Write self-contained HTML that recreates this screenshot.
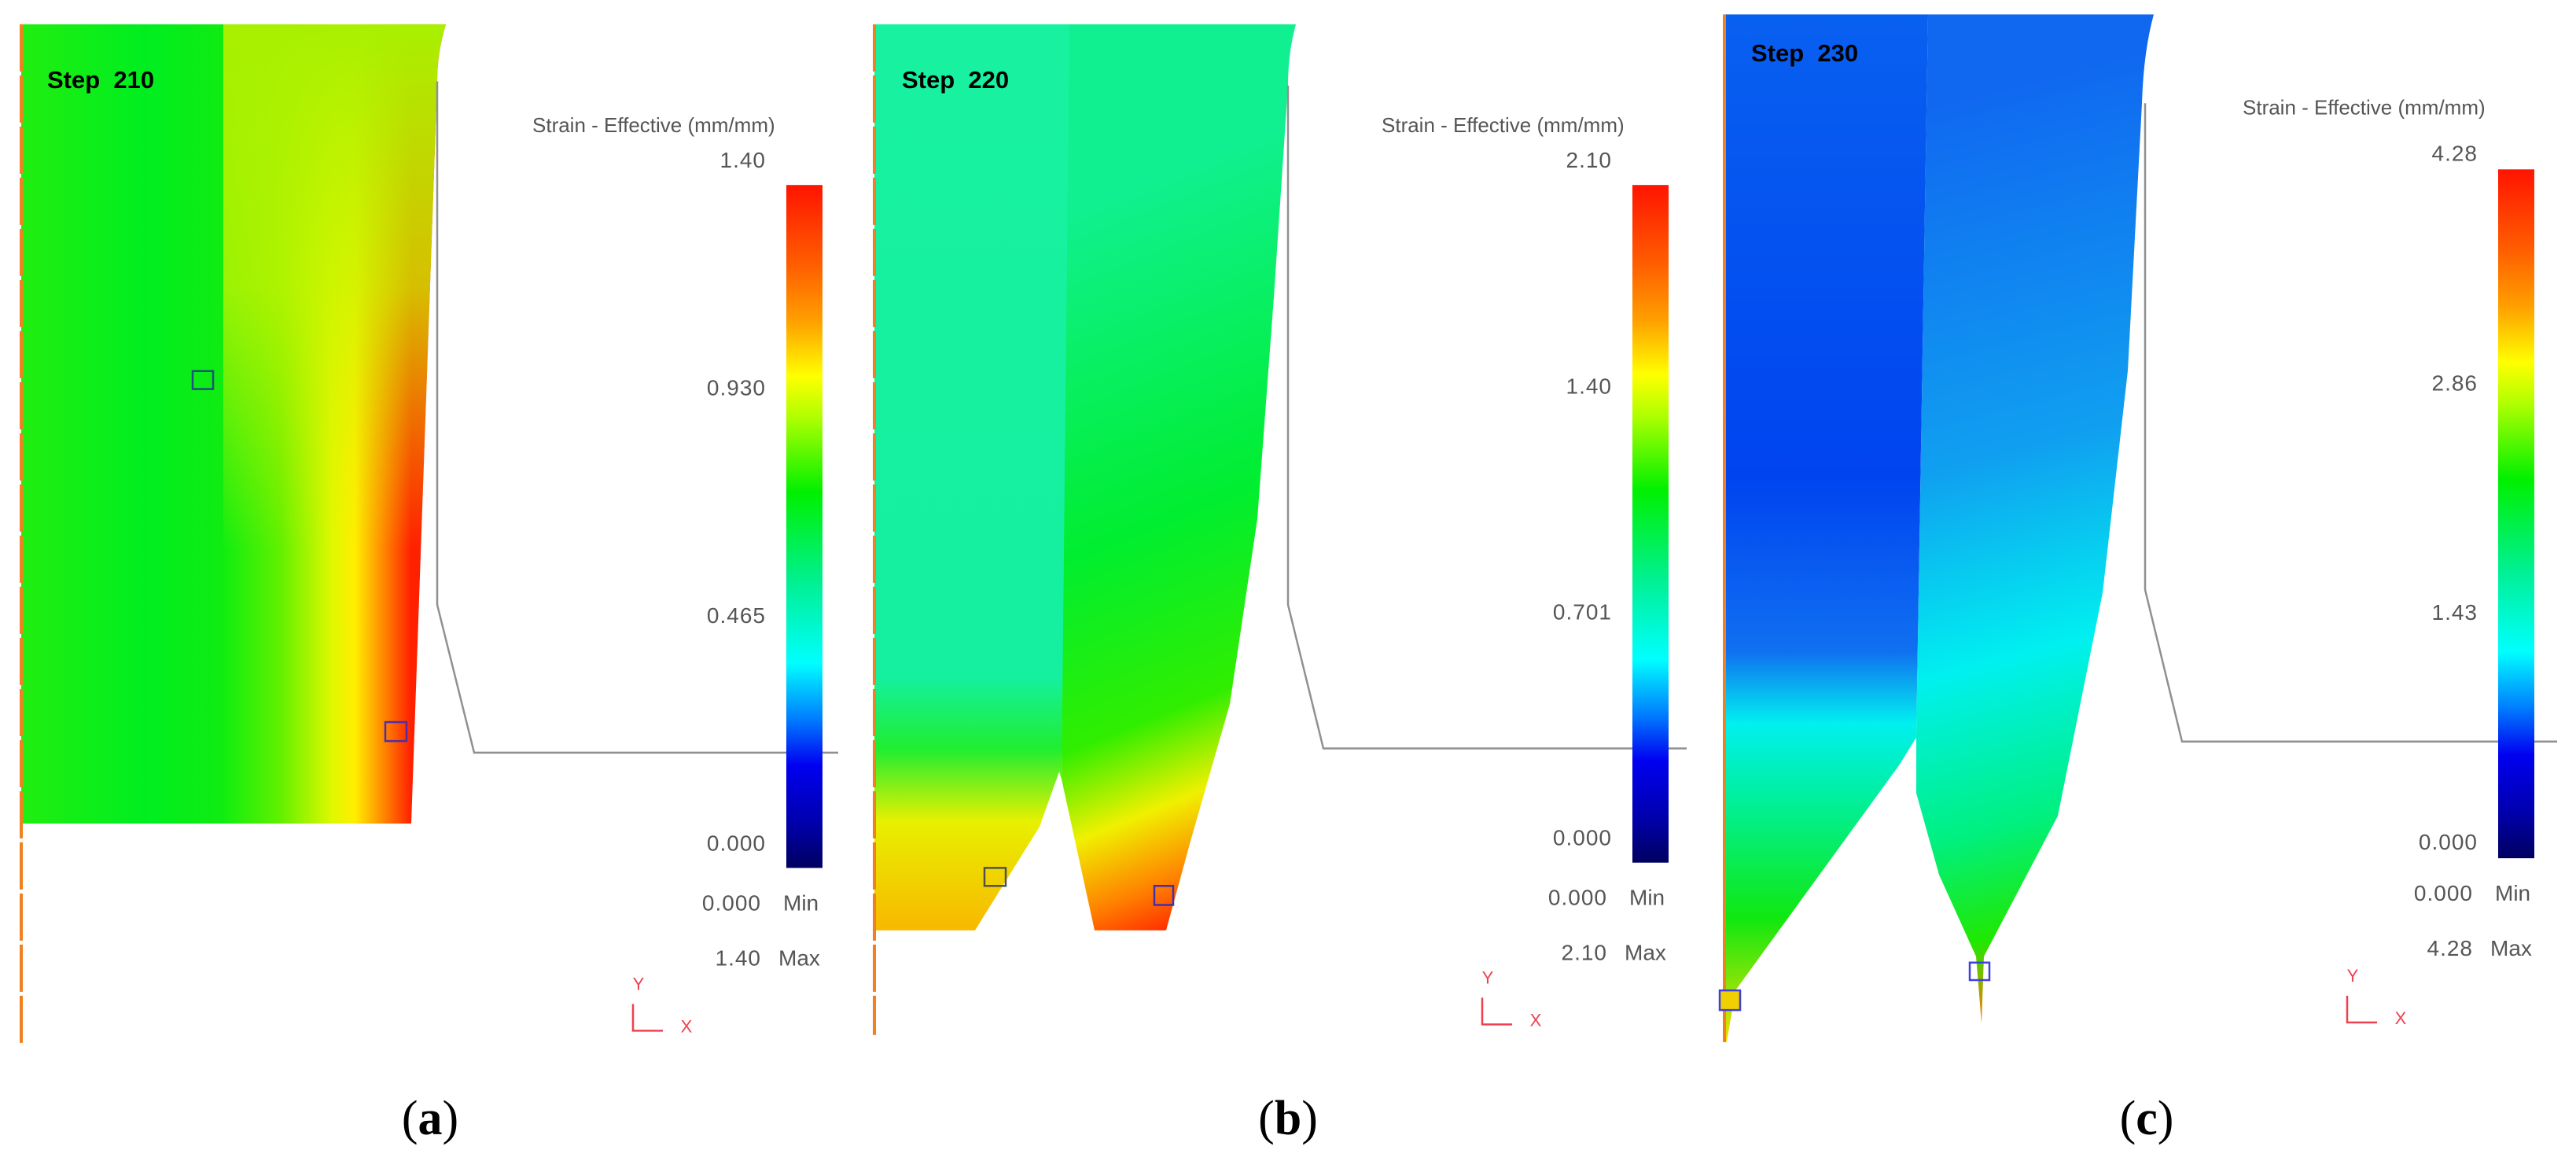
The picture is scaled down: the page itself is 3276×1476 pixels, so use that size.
<!DOCTYPE html>
<html><head><meta charset="utf-8"><style>
html,body{margin:0;padding:0;background:#fff;}
svg{display:block;}
text{font-family:"Liberation Sans",Arial,sans-serif;}
</style></head><body>
<svg id="fig" width="3276" height="1476" viewBox="0 0 3276 1476" xmlns="http://www.w3.org/2000/svg">
<defs>
<linearGradient id="jet" x1="0" y1="0" x2="0" y2="1">
<stop offset="0" stop-color="#ff1400"/><stop offset="0.12" stop-color="#ff6000"/><stop offset="0.2" stop-color="#ffa000"/>
<stop offset="0.28" stop-color="#ffff00"/><stop offset="0.34" stop-color="#b0ff00"/><stop offset="0.45" stop-color="#00f000"/>
<stop offset="0.58" stop-color="#00f090"/><stop offset="0.7" stop-color="#00ffff"/><stop offset="0.78" stop-color="#0080ff"/>
<stop offset="0.85" stop-color="#0000f0"/><stop offset="0.93" stop-color="#0000b0"/><stop offset="1" stop-color="#000060"/>
</linearGradient>
<linearGradient id="aRight" gradientUnits="userSpaceOnUse" x1="284" y1="0" x2="523" y2="0">
<stop offset="0" stop-color="#10ee10"/><stop offset="0.3" stop-color="#60f000"/><stop offset="0.58" stop-color="#e0f800"/><stop offset="0.7" stop-color="#ffee00"/><stop offset="0.84" stop-color="#ff9000"/><stop offset="1" stop-color="#ff2000"/>
</linearGradient>
<linearGradient id="aTop" gradientUnits="userSpaceOnUse" x1="0" y1="23" x2="0" y2="520">
<stop offset="0" stop-color="#a8f000" stop-opacity="1"/><stop offset="0.5" stop-color="#c8f400" stop-opacity="0.75"/><stop offset="1" stop-color="#e0f000" stop-opacity="0"/>
</linearGradient>
<clipPath id="aClip"><path d="M284,23 L567,23 Q556,50 556,77 L523,779 L284,779 Z"/></clipPath>
<linearGradient id="aLeft" gradientUnits="userSpaceOnUse" x1="27" y1="0" x2="290" y2="0">
<stop offset="0" stop-color="#20ee10"/><stop offset="0.6" stop-color="#00ee20"/><stop offset="1" stop-color="#10ec10"/>
</linearGradient>
<linearGradient id="bLeft" gradientUnits="userSpaceOnUse" x1="0" y1="23" x2="0" y2="880">
<stop offset="0" stop-color="#18f2a0"/><stop offset="0.72" stop-color="#14f0a0"/><stop offset="0.8" stop-color="#20ee30"/><stop offset="0.88" stop-color="#e8f000"/><stop offset="1" stop-color="#f8b800"/>
</linearGradient>
<linearGradient id="bRight" gradientUnits="userSpaceOnUse" x1="1360" y1="200" x2="1560" y2="870">
<stop offset="0" stop-color="#10f090"/><stop offset="0.45" stop-color="#00ee30"/><stop offset="0.7" stop-color="#30ee00"/><stop offset="0.82" stop-color="#f0f000"/><stop offset="0.92" stop-color="#ff8000"/><stop offset="1" stop-color="#ff1800"/>
</linearGradient>
<linearGradient id="cLeft" gradientUnits="userSpaceOnUse" x1="0" y1="14" x2="0" y2="1009">
<stop offset="0" stop-color="#0860f0"/><stop offset="0.45" stop-color="#0044f0"/><stop offset="0.62" stop-color="#1070f0"/><stop offset="0.69" stop-color="#00f0f0"/><stop offset="0.76" stop-color="#00f0a0"/><stop offset="0.88" stop-color="#10e810"/><stop offset="1" stop-color="#f0e000"/>
</linearGradient>
<linearGradient id="cRight" gradientUnits="userSpaceOnUse" x1="2470" y1="100" x2="2640" y2="960">
<stop offset="0" stop-color="#1068f0"/><stop offset="0.4" stop-color="#10a0f0"/><stop offset="0.62" stop-color="#00f0f0"/><stop offset="0.8" stop-color="#00f080"/><stop offset="0.92" stop-color="#20e800"/><stop offset="1" stop-color="#f08000"/>
</linearGradient>
</defs>

<!-- Panel a -->
<g transform="scale(1,1.344)">
<path d="M27,23 L285,23 L285,779 L27,779 Z" fill="url(#aLeft)"/>
<path d="M284,23 L567,23 Q556,50 556,77 L523,779 L284,779 Z" fill="url(#aRight)"/>
<rect x="284" y="23" width="290" height="760" fill="url(#aTop)" clip-path="url(#aClip)"/>
<line x1="27" y1="23" x2="27" y2="988" stroke="#f08020" stroke-width="4" stroke-dasharray="60,5" vector-effect="non-scaling-stroke"/>
<polyline points="556,77 556,572 603,712 1066,712" fill="none" stroke="#909090" stroke-width="2.5" vector-effect="non-scaling-stroke"/>
<rect x="245" y="351" width="26" height="17" fill="none" stroke="#205080" stroke-width="2.5" vector-effect="non-scaling-stroke"/>
<rect x="490" y="683" width="27" height="18" fill="none" stroke="#5030a0" stroke-width="2.5" vector-effect="non-scaling-stroke"/>
</g>
<text x="60" y="112" font-size="31" font-weight="bold" fill="#000">Step&#160; 210</text>

<!-- Panel b -->
<g transform="scale(1,1.344)">
<path d="M1112,23 L1362,23 L1350,737 L1347,730 L1322,782 L1240,880 L1112,880 Z" fill="url(#bLeft)"/>
<path d="M1360,23 L1648,23 Q1638,50 1638,81 L1620,281 L1599,491 L1564,666 L1515,793 L1483,880 L1392,880 L1350,737 Z" fill="url(#bRight)"/>
<line x1="1112" y1="23" x2="1112" y2="979" stroke="#f08020" stroke-width="4" stroke-dasharray="60,5" vector-effect="non-scaling-stroke"/>
<polyline points="1638,81 1638,572 1683,708 2145,708" fill="none" stroke="#909090" stroke-width="2.5" vector-effect="non-scaling-stroke"/>
<rect x="1252" y="821" width="27" height="17" fill="none" stroke="#505050" stroke-width="2.5" vector-effect="non-scaling-stroke"/>
<rect x="1468" y="838" width="24" height="18" fill="none" stroke="#4030b0" stroke-width="2.5" vector-effect="non-scaling-stroke"/>
</g>
<text x="1147" y="112" font-size="31" font-weight="bold" fill="#000">Step&#160; 220</text>

<!-- Panel c -->
<g transform="scale(1,1.313)">
<path d="M2193,14 L2452,14 L2437,714 L2416,740 L2207,959 L2196,1009 L2193,1009 Z" fill="url(#cLeft)"/>
<path d="M2452,14 L2739,14 Q2726,50 2724,100 L2706,359 L2674,574 L2617,790 L2523,926 L2520,991 L2513,926 L2466,847 L2437,768 L2437,714 Z" fill="url(#cRight)"/>
<line x1="2193" y1="14" x2="2193" y2="1009" stroke="#f08020" stroke-width="4" vector-effect="non-scaling-stroke"/>
<polyline points="2728,100 2728,571 2775,718 3252,718" fill="none" stroke="#909090" stroke-width="2.5" vector-effect="non-scaling-stroke"/>
<rect x="2187" y="959" width="26" height="19" fill="#f0d000" stroke="#4040e0" stroke-width="2.5" vector-effect="non-scaling-stroke"/>
<rect x="2505" y="932" width="25" height="17" fill="none" stroke="#4040e0" stroke-width="2.5" vector-effect="non-scaling-stroke"/>
</g>
<text x="2227" y="78" font-size="31" font-weight="bold" fill="#000">Step&#160; 230</text>
<g id="legends"></g>
</svg>
<script>
var panelNames = ['a', 'b', 'c'];
var tickLabelsA = ['1.40', '0.930', '0.465', '0.000'];
var tickLabelsB = ['2.10', '1.40', '0.701', '0.000'];
var tickLabelsC = ['4.28', '2.86', '1.43', '0.000'];
var minValues = ['0.000', '0.000', '0.000'];
var maxValues = ['1.40', '2.10', '4.28'];
var allTicks = [tickLabelsA, tickLabelsB, tickLabelsC];
var layout = [
 {S:1.344, titleX:677, titleY:125, barX:1000, barTop:175, barBot:821, capX:547, triX:805, triY:975, labOff:22},
 {S:1.344, titleX:1757, titleY:125, barX:2076, barTop:175, barBot:816, capX:1638, triX:1885, triY:969, labOff:22},
 {S:1.313, titleX:2852, titleY:111, barX:3177, barTop:164, barBot:831, capX:2730, triX:2985, triY:990, labOff:11}
];
var NS = 'http://www.w3.org/2000/svg';
var root = document.getElementById('legends');
function mk(tag, attrs, txt) {
  var e = document.createElementNS(NS, tag);
  for (var k in attrs) e.setAttribute(k, attrs[k]);
  if (txt !== undefined) e.textContent = txt;
  root.appendChild(e);
  return e;
}
panelNames.forEach(function (p, i) {
  var L = layout[i];
  var S = L.S;
  var ticks = allTicks[i];
  var labR = L.barX - 26;
  var t = mk('text', {x: L.titleX, y: L.titleY * S, 'font-size': 26, fill: '#555'}, 'Strain - Effective (mm/mm)');
  
  
  var top = L.barTop * S, bot = L.barBot * S;
  var bar = mk('rect', {x: L.barX, y: top, width: 46, height: bot - top, fill: 'url(#jet)'});
  
  
  var n = ticks.length;
  function yScale(k) { return top + (bot - top) * k / (n - 1); }
  ticks.forEach(function (lab, k) {
    var y = yScale(k) - L.labOff;
    var e = mk('text', {x: labR, y: y, 'font-size': 28, fill: '#555', 'text-anchor': 'end', 'letter-spacing': 1}, lab);
    
    
  });
  var minY = bot + 54, maxY = bot + 124;
  var mn = mk('text', {x: labR - 6, y: minY, 'font-size': 28, fill: '#555', 'text-anchor': 'end', 'letter-spacing': 1}, minValues[i]);
  
  
  var mnl = mk('text', {x: L.barX - 4, y: minY, 'font-size': 28, fill: '#555'}, 'Min');
  
  
  var mx = mk('text', {x: labR - 6, y: maxY, 'font-size': 28, fill: '#555', 'text-anchor': 'end', 'letter-spacing': 1}, maxValues[i]);
  
  
  var mxl = mk('text', {x: L.barX - 10, y: maxY, 'font-size': 28, fill: '#555'}, 'Max');
  
  
  var ty0 = L.triY * S;
  var tri = mk('polyline', {points: L.triX + ',' + (ty0 - 34) + ' ' + L.triX + ',' + ty0 + ' ' + (L.triX + 38) + ',' + ty0, fill: 'none', stroke: '#f04050', 'stroke-width': 2.5});
  
  
  var ty = mk('text', {x: L.triX + 7, y: ty0 - 52, 'font-size': 22, fill: '#f04050', 'text-anchor': 'middle'}, 'Y');
  
  
  var tx = mk('text', {x: L.triX + 68, y: ty0 + 2, 'font-size': 22, fill: '#f04050', 'text-anchor': 'middle'}, 'X');
  
  
  var cap = mk('text', {x: L.capX, y: 1442, 'font-size': 62, fill: '#000', 'text-anchor': 'middle', style: 'font-family:"Liberation Serif",serif'});
  
  
  cap.appendChild(document.createTextNode('('));
  var b = document.createElementNS(NS, 'tspan');
  b.setAttribute('font-weight', 'bold');
  b.textContent = p;
  cap.appendChild(b);
  cap.appendChild(document.createTextNode(')'));
});
</script>
</body></html>
